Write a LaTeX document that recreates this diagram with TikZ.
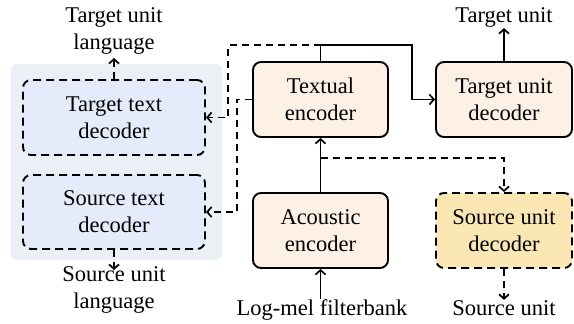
\documentclass[tikz,border=0pt]{standalone}
\usepackage{fontspec}
\setmainfont{Liberation Serif}
\usetikzlibrary{arrows.meta}
\definecolor{encfill}{HTML}{FDF1E6}
\definecolor{decfill}{HTML}{E4EBFA}
\definecolor{panelfill}{HTML}{EAF0F6}
\definecolor{sufill}{HTML}{FBE7B4}
\begin{document}
\begin{tikzpicture}[x=1pt,y=-1pt,
  txt/.style={font=\fontsize{22.5}{27}\selectfont, align=center, inner sep=0pt},
  box/.style={txt, draw, line width=1.9pt, rounded corners=8pt, minimum height=75pt},
  encbox/.style={box, fill=encfill, minimum width=135pt},
  decbox/.style={box, fill=decfill, minimum width=182pt, dash pattern=on 8pt off 5pt},
  subox/.style={box, fill=sufill, minimum width=136pt, dash pattern=on 8pt off 5pt},
  conn/.style={line width=1.7pt, -{Straight Barb[length=4.5pt,width=10pt]}},
  dconn/.style={conn, dash pattern=on 7pt off 5pt}]
\useasboundingbox (0,0) rectangle (574,324);
\fill[panelfill, rounded corners=6pt] (11,64) rectangle (222,260);
\node[decbox] (tdec) at (114,117.5) {Target text\\decoder};
\node[decbox, minimum height=74pt] (sdec) at (114,212) {Source text\\decoder};
\node[encbox] (tenc) at (320.5,99.5) {Textual\\encoder};
\node[encbox] (aenc) at (320.5,230.5) {Acoustic\\encoder};
\node[encbox, minimum width=136pt] (tudec) at (504,99.5) {Target unit\\decoder};
\node[subox] (sudec) at (504,230.5) {Source unit\\decoder};
\node[txt] (tul) at (114,31) {Target unit\\language};
\node[txt] (sul) at (114,290) {Source unit\\language};
\node[txt, anchor=base] (tu) at (504,23) {Target unit};
\node[txt, anchor=base] (su) at (504,315) {Source unit};
\node[txt, anchor=base] (lm) at (322,315) {Log-mel filterbank};
\coordinate (top) at (320.5,45);
\coordinate (br) at (320.5,158);
\draw[conn] (aenc.south |- lm.north) -- (aenc.south);
\draw[conn] (aenc.north) -- (tenc.south);
\draw[dconn] (br) -| (sudec.north);
\draw[dconn] (sudec.south) -- (su.north);
\draw[conn] (tudec.north) -- (tu.south -| tudec.north);
\draw[conn] (tenc.north) -- (top) -- (412,45) |- (tudec.west);
\draw[dconn] (top) -- (228,45) |- (tdec.east);
\draw[dconn] (tenc.west) -- (237,99.5) |- (sdec.east);
\draw[dconn] (tdec.north) -- (114,58);
\draw[dconn] (sdec.south) -- (114,270);
\end{tikzpicture}
\end{document}
